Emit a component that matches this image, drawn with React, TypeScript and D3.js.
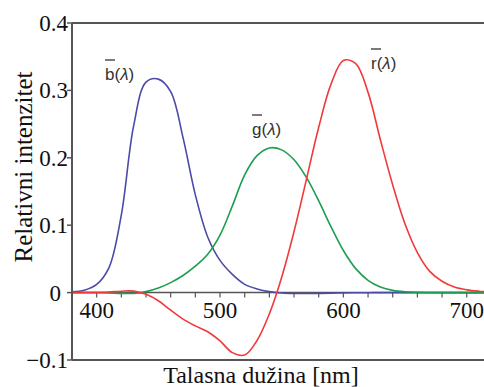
import React from "react";
import * as d3 from "d3";

const wavelengths = [380, 390, 400, 410, 420, 430, 440, 450, 460, 470, 480, 490, 500, 510, 520, 530, 540, 550, 560, 570, 580, 590, 600, 610, 620, 630, 640, 650, 660, 670, 680, 690, 700, 710, 720];
const rBar = [0.00003, 0.0001, 0.0003, 0.00084, 0.00211, 0.00218, -0.00261, -0.01213, -0.02608, -0.03933, -0.04939, -0.05814, -0.07173, -0.08901, -0.09264, -0.07101, -0.03152, 0.02279, 0.0906, 0.16768, 0.24526, 0.30928, 0.34429, 0.33971, 0.29708, 0.22677, 0.15968, 0.10167, 0.05932, 0.03149, 0.01687, 0.00819, 0.0041, 0.0021, 0.00105];
const gBar = [-0.00001, -0.00004, -0.00014, -0.00041, -0.0011, -0.00119, 0.00149, 0.00678, 0.01485, 0.02538, 0.03914, 0.05689, 0.08536, 0.1286, 0.17468, 0.20317, 0.21466, 0.21178, 0.19702, 0.17087, 0.1361, 0.09754, 0.06246, 0.03557, 0.01828, 0.00833, 0.00334, 0.00116, 0.00037, 0.00011, 0.00003, 0.00001, 0, 0, 0];
const bBar = [0.00117, 0.00359, 0.01214, 0.03707, 0.11541, 0.24769, 0.31228, 0.3167, 0.29821, 0.22991, 0.14494, 0.08257, 0.04776, 0.02698, 0.01221, 0.00549, 0.00146, -0.00058, -0.0013, -0.00135, -0.00108, -0.00079, -0.00049, -0.0003, -0.00015, -0.00008, -0.00003, -0.00001, 0, 0, 0, 0, 0, 0, 0];

const yTicks = [-0.1, 0, 0.1, 0.2, 0.3, 0.4];
const xTickLabels = [400, 500, 600, 700];
const xMinorTicks = [400, 420, 440, 460, 480, 500, 520, 540, 560, 580, 600, 620, 640, 660, 680, 700];
const seriesNames = ["b", "g", "r"];
const xTitle = "Talasna dužina [nm]";
const yTitle = "Relativni intenzitet";

const W = 484;
const H = 387;
const left = 72;
const right = 484;
const top = 23;
const bottom = 360;

const axisColor = "#555";
const serif = "Liberation Serif";
const sans = "Liberation Sans";

export default function App() {
  const x = d3.scaleLinear().domain([380, 714]).range([left, right]);
  const y = d3.scaleLinear().domain([-0.1, 0.4]).range([bottom, top]);
  const line = d3
    .line<number>()
    .x((_, i) => x(wavelengths[i]))
    .y((d) => y(d))
    .curve(d3.curveCatmullRom.alpha(0.5));

  const series = [
    { name: "b", values: bBar, color: "#4b4ba8", lx: 105, ly: 80 },
    { name: "g", values: gBar, color: "#1d9e50", lx: 252, ly: 135 },
    { name: "r", values: rBar, color: "#f03a3a", lx: 371, ly: 69 },
  ];
  const y0 = y(0);

  return (
    <svg
      width={W}
      height={H}
      style={{ position: "absolute", left: 0, top: 0, display: "block", background: "#fff" }}
    >
      <defs>
        <clipPath id="plot">
          <rect x={left} y={top} width={right - left} height={bottom - top} />
        </clipPath>
      </defs>
      <rect x={0} y={0} width={W} height={H} fill="#fff" />

      <line x1={left} x2={right} y1={y0} y2={y0} stroke={axisColor} strokeWidth={1.5} />
      {xMinorTicks.map((t) => (
        <line key={t} x1={x(t)} x2={x(t)} y1={y0} y2={y0 + 5} stroke={axisColor} strokeWidth={1.2} />
      ))}

      <g clipPath="url(#plot)">
        {series.map((s) => (
          <path key={s.name} d={line(s.values) || ""} fill="none" stroke={s.color} strokeWidth={1.6} />
        ))}
      </g>

      <line x1={left} x2={right} y1={top} y2={top} stroke={axisColor} strokeWidth={2} />
      <line x1={left} x2={right} y1={bottom} y2={bottom} stroke={axisColor} strokeWidth={2} />
      <line x1={left} x2={left} y1={top} y2={bottom} stroke={axisColor} strokeWidth={2} />

      {yTicks.map((t) => (
        <g key={t}>
          <line x1={left - 5} x2={left} y1={y(t)} y2={y(t)} stroke={axisColor} strokeWidth={1.5} />
          <text
            x={t === 0 ? 61 : 68}
            y={y(t)}
            dy="0.35em"
            textAnchor="end"
            style={{ fontFamily: serif, fontSize: 23 }}
            fill="#111"
          >
            {t === 0 ? "0" : d3.format(".1f")(t)}
          </text>
        </g>
      ))}

      {xTickLabels.map((t) => (
        <text key={t} x={x(t)} y={y0 + 25} textAnchor="middle" style={{ fontFamily: serif, fontSize: 23 }} fill="#111">
          {t}
        </text>
      ))}

      <text x={261} y={383} textAnchor="middle" style={{ fontFamily: serif, fontSize: 24 }} fill="#111">
        {xTitle}
      </text>
      <text
        transform={`translate(32, 167) rotate(-90)`}
        textAnchor="middle"
        style={{ fontFamily: serif, fontSize: 25 }}
        fill="#111"
      >
        {yTitle}
      </text>

      {series.map((s, i) => (
        <g key={s.name}>
          <text x={s.lx} y={s.ly} style={{ fontFamily: sans, fontSize: 17 }} fill="#333">
            {seriesNames[i]}(<tspan fontStyle="italic">λ</tspan>)
          </text>
          <line x1={s.lx} x2={s.lx + 10} y1={s.ly - 20} y2={s.ly - 20} stroke="#333" strokeWidth={1.3} />
        </g>
      ))}
    </svg>
  );
}
